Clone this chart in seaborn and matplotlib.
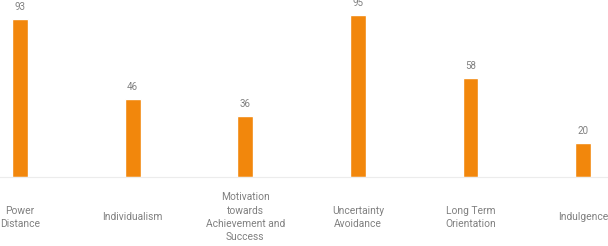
import matplotlib
matplotlib.use("Agg")
import matplotlib.pyplot as plt
import seaborn as sns
import pandas as pd

categories = ["Power\nDistance", "Individualism",
              "Motivation\ntowards\nAchievement and\nSuccess",
              "Uncertainty\nAvoidance", "Long Term\nOrientation", "Indulgence"]
scores = [93, 46, 36, 95, 58, 20]

bar_color = "#F2870C"
text_color = "#808080"

sns.set_theme(style="white")
plt.rcParams['font.family'] = ['Roboto', 'DejaVu Sans']

df = pd.DataFrame({"dimension": categories, "score": scores})

fig = plt.figure(figsize=(6.08, 2.46), dpi=100)
ax = fig.add_axes([0, 0.2805, 1, 0.7195])

sns.barplot(data=df, x="dimension", y="score", color=bar_color,
            width=0.14, saturation=1, ax=ax)

ax.bar_label(ax.containers[0], padding=5, fontsize=7, color=text_color)

ax.set_xlim(-0.178, 5.222)
ax.set_ylim(0, 104)
ax.set_xlabel("")
ax.set_ylabel("")
ax.set_yticks([])
ax.tick_params(axis="x", length=0, pad=29, labelsize=7.4, labelcolor=text_color)
for lbl in ax.get_xticklabels():
    lbl.set_va("center")
    lbl.set_ha("center")
    lbl.set_linespacing(1.4)

for side in ["top", "left", "right"]:
    ax.spines[side].set_visible(False)
ax.spines["bottom"].set_color("#ececec")
ax.spines["bottom"].set_linewidth(0.8)

fig.savefig("out.png", dpi=100)
